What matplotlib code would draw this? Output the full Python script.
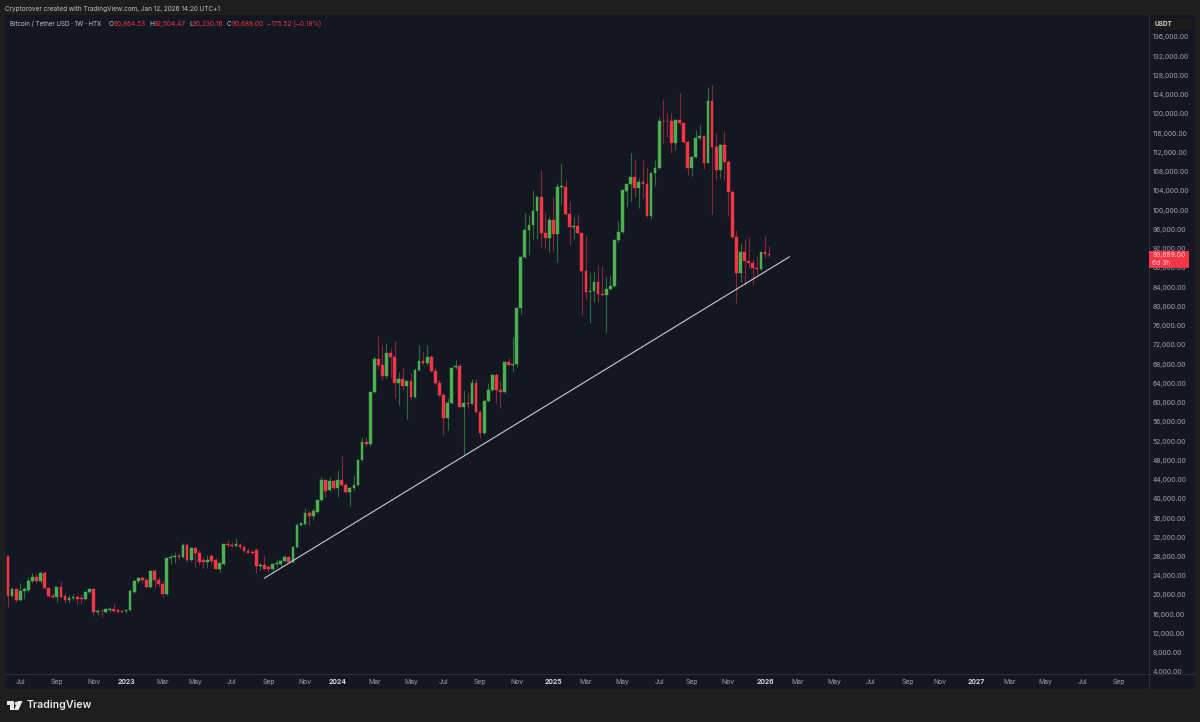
import datetime as dt

import matplotlib
matplotlib.use("Agg")
import matplotlib.dates as mdates
import matplotlib.pyplot as plt
import numpy as np
from matplotlib.lines import Line2D
from matplotlib.patches import Polygon, Rectangle

plt.rcParams['font.family'] = ['Inter', 'DejaVu Sans']

# weekly candles, prices in thousands of USDT
first_week = dt.date(2022, 6, 13)

opens = [
    28.1, 19.8, 21.2, 18.9, 20.9, 21.0, 22.8, 23.8, 22.8, 24.5,
    21.4, 19.8, 19.6, 21.6, 19.8, 18.9, 19.3, 19.5, 19.3, 19.1,
    20.7, 21.2, 16.5, 16.7, 16.5, 16.9, 17.1, 16.9, 16.7, 16.6,
    16.9, 20.7, 22.8, 23.5, 23.1, 21.7, 25.0, 23.2, 22.3, 20.2,
    27.6, 27.8, 28.0, 27.8, 30.4, 27.3, 29.7, 28.8, 27.3, 26.8,
    28.0, 27.3, 25.5, 26.4, 30.6, 30.4, 30.2, 30.4, 29.9, 29.2,
    29.0, 29.3, 26.0, 26.2, 25.9, 25.5, 26.4, 26.4, 27.1, 27.8,
    26.8, 29.9, 34.5, 34.8, 37.1, 36.4, 37.3, 39.7, 43.9, 41.8,
    43.7, 42.3, 43.9, 42.9, 41.5, 42.2, 42.9, 48.0, 51.7, 51.4,
    62.1, 69.0, 67.8, 65.5, 70.2, 69.4, 64.0, 64.8, 63.5, 64.4,
    61.2, 66.8, 68.7, 68.2, 69.4, 66.6, 64.0, 61.6, 56.7, 60.0,
    67.3, 67.6, 59.0, 60.0, 59.8, 64.0, 58.1, 53.6, 60.3, 62.6,
    65.7, 62.6, 62.1, 68.5, 67.8, 68.0, 79.6, 90.2, 95.9, 96.9,
    99.8, 102.7, 95.2, 94.3, 98.0, 95.0, 104.9, 104.9, 99.2, 96.4,
    96.8, 95.3, 87.3, 82.9, 83.2, 85.0, 82.6, 82.4, 83.7, 84.3,
    93.8, 95.4, 104.0, 105.4, 106.8, 104.7, 105.9, 105.4, 98.8, 107.7,
    108.7, 118.6, 118.6, 118.5, 113.9, 118.7, 118.05, 114.2, 108.7, 111.1,
    115.1, 115.4, 109.9, 122.7, 113.1, 108.4, 113.5, 110.1, 103.7, 94.5,
    87.0, 91.4, 89.4, 89.0, 87.9, 87.7, 91.2, 90.864,
]
highs = [
    28.1, 21.7, 21.4, 22.5, 21.6, 23.8, 24.5, 24.4, 25.0, 25.0,
    21.6, 20.5, 21.7, 22.8, 20.5, 20.0, 20.2, 20.0, 20.3, 20.9,
    21.4, 21.2, 17.0, 17.0, 17.2, 17.4, 18.4, 17.1, 16.9, 17.1,
    21.2, 23.2, 23.8, 23.9, 23.5, 25.2, 25.3, 23.8, 22.8, 27.6,
    28.5, 29.0, 28.65, 30.9, 30.7, 30.0, 29.9, 29.3, 27.8, 28.3,
    28.5, 27.6, 26.6, 30.6, 31.4, 31.0, 31.8, 30.7, 30.2, 29.7,
    29.3, 29.7, 26.7, 28.1, 26.2, 26.4, 27.4, 27.3, 28.3, 28.0,
    30.0, 35.0, 35.0, 38.0, 37.7, 38.0, 39.7, 44.6, 43.9, 44.5,
    43.9, 46.0, 48.9, 43.2, 42.5, 44.9, 48.2, 52.8, 52.9, 62.3,
    69.6, 73.8, 72.0, 72.3, 71.3, 72.7, 66.4, 67.1, 64.7, 66.1,
    67.1, 72.0, 70.6, 72.0, 69.9, 67.3, 64.7, 61.9, 60.9, 67.3,
    68.9, 68.2, 62.6, 61.9, 64.8, 64.8, 58.5, 60.5, 64.0, 65.9,
    66.1, 64.4, 68.7, 69.2, 73.7, 79.8, 90.5, 99.5, 99.0, 104.1,
    103.2, 108.3, 99.7, 98.6, 102.7, 105.7, 109.7, 106.3, 101.8, 98.6,
    99.3, 95.5, 94.8, 87.2, 87.2, 88.6, 88.3, 86.2, 86.3, 93.9,
    97.8, 104.2, 105.4, 111.8, 110.6, 106.6, 110.4, 108.7, 108.0, 110.4,
    119.3, 123.2, 120.3, 120.1, 118.9, 124.3, 118.2, 114.6, 111.3, 116.7,
    117.8, 115.6, 125.5, 126.0, 116.0, 113.8, 116.5, 110.4, 104.2, 95.9,
    93.1, 94.0, 94.5, 89.8, 90.5, 91.4, 94.6, 92.504,
]
lows = [
    17.6, 19.6, 18.6, 18.8, 19.1, 20.7, 22.4, 22.4, 22.5, 21.2,
    19.6, 19.3, 18.6, 19.3, 18.3, 18.6, 18.9, 18.1, 18.1, 18.9,
    20.5, 15.6, 15.8, 15.5, 16.2, 16.5, 16.5, 16.3, 16.4, 16.3,
    16.6, 20.5, 22.5, 22.5, 21.4, 21.4, 21.4, 21.7, 19.5, 20.0,
    26.4, 26.6, 27.3, 27.6, 26.9, 27.1, 25.9, 26.2, 25.7, 25.7,
    26.4, 25.3, 24.8, 26.2, 30.0, 30.0, 30.0, 29.6, 29.0, 28.8,
    28.5, 24.6, 25.2, 25.3, 24.8, 25.0, 25.9, 26.0, 26.9, 26.6,
    26.6, 29.7, 34.3, 34.5, 34.5, 35.6, 37.1, 39.6, 40.3, 41.7,
    41.8, 40.4, 42.6, 41.3, 38.5, 41.9, 42.6, 47.9, 51.0, 51.0,
    61.9, 66.9, 64.7, 65.2, 65.4, 60.9, 59.5, 62.6, 56.5, 60.6,
    60.9, 66.6, 67.8, 67.8, 66.4, 63.7, 61.2, 53.3, 54.3, 59.8,
    66.9, 58.8, 48.9, 58.8, 59.7, 57.8, 52.6, 53.5, 60.2, 62.4,
    60.0, 58.8, 61.9, 67.6, 66.4, 67.3, 78.5, 90.0, 90.7, 94.0,
    94.0, 92.3, 92.1, 91.4, 91.4, 89.3, 101.1, 99.0, 92.8, 94.1,
    95.0, 78.2, 81.5, 76.5, 81.0, 81.0, 82.4, 74.4, 83.5, 84.1,
    93.3, 95.2, 100.7, 102.0, 102.8, 100.4, 102.5, 98.6, 98.1, 105.0,
    108.5, 113.9, 115.3, 111.8, 112.5, 117.7, 114.0, 107.3, 107.1, 110.8,
    114.6, 108.5, 109.7, 99.3, 106.3, 106.6, 106.3, 98.8, 94.3, 80.6,
    85.1, 84.4, 87.9, 84.4, 86.5, 87.6, 90.0, 90.23,
]
closes = [
    19.8, 21.2, 18.9, 20.9, 21.2, 22.8, 23.8, 22.8, 24.5, 21.4,
    19.8, 19.6, 21.6, 19.6, 18.9, 19.3, 19.5, 19.1, 19.1, 20.7,
    21.2, 16.5, 16.7, 16.6, 17.0, 17.1, 16.7, 16.5, 16.5, 16.9,
    20.9, 22.8, 23.6, 23.1, 21.7, 25.0, 23.2, 22.3, 20.2, 27.6,
    27.8, 28.1, 27.8, 30.4, 27.3, 29.7, 28.8, 26.9, 26.8, 27.3,
    27.1, 25.5, 26.6, 30.6, 30.4, 30.2, 30.5, 29.9, 29.2, 28.8,
    28.8, 26.0, 26.2, 25.5, 25.5, 26.4, 26.7, 27.1, 27.8, 26.8,
    29.9, 34.5, 34.9, 37.1, 36.4, 37.5, 39.7, 43.9, 41.7, 43.7,
    42.3, 43.9, 42.9, 41.5, 42.2, 42.9, 48.0, 51.7, 51.4, 62.1,
    69.0, 67.8, 65.5, 70.2, 69.4, 64.0, 64.8, 63.5, 64.4, 61.2,
    66.8, 68.7, 68.2, 69.4, 66.6, 64.0, 61.6, 56.7, 60.0, 67.1,
    67.6, 59.0, 60.0, 59.8, 64.0, 58.1, 53.6, 60.3, 62.6, 65.7,
    62.6, 62.1, 68.5, 67.8, 68.0, 79.6, 90.2, 95.9, 96.9, 99.8,
    102.7, 95.2, 94.3, 98.0, 95.0, 104.9, 105.0, 99.2, 96.4, 96.8,
    95.3, 87.3, 82.9, 83.2, 85.0, 82.6, 82.4, 83.7, 84.3, 93.8,
    95.4, 104.1, 105.4, 106.8, 104.7, 105.9, 105.4, 98.8, 107.7, 108.7,
    118.6, 118.5, 118.5, 113.9, 118.7, 118.05, 114.2, 108.7, 111.1, 115.1,
    115.4, 109.9, 122.7, 113.1, 108.4, 113.5, 110.0, 103.7, 94.5, 87.0,
    91.4, 89.4, 89.0, 87.9, 87.7, 91.2, 90.9, 90.689,
]

trend_dates = [dt.date(2023, 8, 28), dt.date(2026, 2, 16)]
trend_prices = [23.5, 90.3]

# x axis labels: first Monday of each month, years in bold
month_ticks = [
    (2022, 7, 'Jul'), (2022, 9, 'Sep'), (2022, 11, 'Nov'), (2023, 1, '2023'),
    (2023, 3, 'Mar'), (2023, 5, 'May'), (2023, 7, 'Jul'), (2023, 9, 'Sep'),
    (2023, 11, 'Nov'), (2024, 1, '2024'), (2024, 3, 'Mar'), (2024, 5, 'May'),
    (2024, 7, 'Jul'), (2024, 9, 'Sep'), (2024, 11, 'Nov'), (2025, 1, '2025'),
    (2025, 3, 'Mar'), (2025, 5, 'May'), (2025, 7, 'Jul'), (2025, 9, 'Sep'),
    (2025, 11, 'Nov'), (2026, 1, '2026'), (2026, 3, 'Mar'), (2026, 5, 'May'),
    (2026, 7, 'Jul'), (2026, 9, 'Sep'), (2026, 11, 'Nov'), (2027, 1, '2027'),
    (2027, 3, 'Mar'), (2027, 5, 'May'), (2027, 7, 'Jul'), (2027, 9, 'Sep'),
]
price_ticks = list(range(4, 137, 4))

OUTER = '#1e1e1e'
PANEL = '#131722'
GRID = '#2a2e39'
UP = '#4caf50'
DOWN = '#f23645'
UP_WICK = '#2f6b3c'
DOWN_WICK = '#85293a'
TEXT = '#a0a3ab'

W, H = 1200, 722


def fx(x):
    return x / W


def fy(y):
    return 1 - y / H


def first_monday(year, month):
    d = dt.date(year, month, 1)
    return d + dt.timedelta(days=(7 - d.weekday()) % 7)


def label(x, y, s, color=TEXT, size=4.7, **kw):
    fig.text(fx(x), fy(y), s, color=color, fontsize=size, va='center', **kw)


fig = plt.figure(figsize=(W / 100, H / 100), dpi=100, facecolor=OUTER)

# panel behind the chart and both scales
fig.add_artist(Rectangle((fx(6), fy(689)), (1194 - 6) / W, (689 - 15) / H,
                         transform=fig.transFigure, facecolor=PANEL, edgecolor='none', zorder=-1))

ax = fig.add_axes([fx(6), fy(674), (1149 - 6) / W, (674 - 15) / H], facecolor=PANEL)

o, h, l, c = map(np.array, (opens, highs, lows, closes))
dates = mdates.date2num([first_week + dt.timedelta(weeks=i) for i in range(len(o))])
up = c >= o

ax.vlines(dates, l, h, colors=np.where(up, UP_WICK, DOWN_WICK), linewidth=0.8, zorder=2)
ax.bar(dates, np.abs(c - o), bottom=np.minimum(o, c), width=4.7,
       color=np.where(up, UP, DOWN), edgecolor=np.where(up, UP, DOWN),
       linewidth=0.3, zorder=3)

ax.plot(mdates.date2num(trend_dates), trend_prices, color='#c9cbd1', linewidth=0.8, zorder=4)

# 0.5814 px per day, 0.2079k per px
ax.set_xlim(dates[0] - 2 / 0.5814, dates[0] + (1149 - 8) / 0.5814)
ax.set_ylim(3.57, 140.57)

ax.yaxis.tick_right()
ax.set_yticks(price_ticks)
ax.set_yticklabels([f'{p * 1000:,.2f}' for p in price_ticks])
ax.tick_params(axis='y', length=0, pad=2.8, labelsize=4.9, labelcolor=TEXT)

ax.set_xticks(mdates.date2num([first_monday(y, m) for y, m, _ in month_ticks]))
ax.set_xticklabels([t[2] for t in month_ticks])
ax.tick_params(axis='x', length=0, pad=3.8, labelsize=4.9, labelcolor=TEXT)
for tick, t in zip(ax.get_xticklabels(), month_ticks):
    if t[2].isdigit():
        tick.set_fontweight('bold')
        tick.set_color('#d6d8dd')

for side in ('top', 'left'):
    ax.spines[side].set_visible(False)
for side in ('right', 'bottom'):
    ax.spines[side].set_color(GRID)
    ax.spines[side].set_linewidth(0.8)

# scale separators carry on past the plot area
fig.add_artist(Line2D([fx(1149), fx(1149)], [fy(674), fy(689)], color=GRID, linewidth=0.8))
fig.add_artist(Line2D([fx(1149), fx(1194)], [fy(674), fy(674)], color=GRID, linewidth=0.8))

# header lines
label(5, 9.5, 'Cryptorover created with TradingView.com, Jan 12, 2026 14:20 UTC+1', color='#c2c4c8', size=4.62)
label(10, 24, 'Bitcoin / Tether USD · 1W · HTX', color='#c2c5cc', size=4.45)
for x, s, col in [(109, 'O', '#c2c5cc'), (114, '90,864.53', DOWN),
                  (149, 'H', '#c2c5cc'), (154, '92,504.47', DOWN),
                  (189, 'L', '#c2c5cc'), (193, '90,230.16', DOWN),
                  (227, 'C', '#c2c5cc'), (232, '90,689.00', DOWN),
                  (267, '−175.52 (−0.19%)', DOWN)]:
    label(x, 24, s, color=col)

# currency box
fig.add_artist(Rectangle((fx(1151), fy(30)), 41 / W, 12 / H, transform=fig.transFigure,
                         facecolor='#1b1b1d', edgecolor='none', zorder=5))
label(1155, 24, 'USDT', color='#d0d2d6', fontweight='bold', zorder=6)

# last price tag
fig.add_artist(Rectangle((fx(1149), fy(267.5)), 40 / W, 16.5 / H, transform=fig.transFigure,
                         facecolor=DOWN, edgecolor='none', zorder=5))
fig.text(fx(1152.5), fy(255), f'{closes[-1] * 1000:,.2f}', color='#ffc6cb', fontsize=4.9,
         va='center', zorder=6)
fig.text(fx(1152.5), fy(263), '6d 3h', color='#ffc6cb', fontsize=4.9, va='center', zorder=6)

# logo at the bottom
logo = '#e8e8e8'
fig.add_artist(Polygon([(fx(6.5), fy(701)), (fx(13.5), fy(701)), (fx(13.5), fy(710)),
                        (fx(10), fy(710)), (fx(10), fy(704.5)), (fx(6.5), fy(704.5))],
                       transform=fig.transFigure, facecolor=logo, edgecolor='none'))
fig.add_artist(Polygon([(fx(18), fy(701)), (fx(22.5), fy(701)), (fx(18.5), fy(710)), (fx(14), fy(710))],
                       transform=fig.transFigure, facecolor=logo, edgecolor='none'))
fig.add_artist(Line2D([fx(15.8)], [fy(702.8)], marker='o', markersize=2.6, color=logo,
                      markeredgewidth=0))
label(27, 705.5, 'TradingView', color='#e8e8e8', size=7.6, fontweight='semibold')

fig.savefig('out.png', dpi=100, facecolor=OUTER)
